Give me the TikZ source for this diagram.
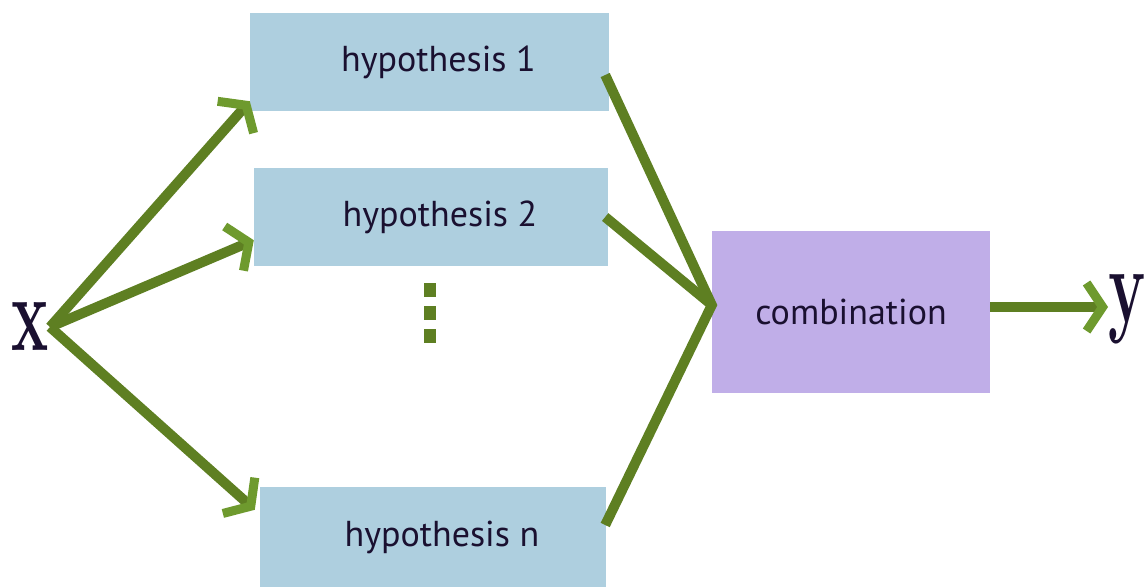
\documentclass[tikz,border=0pt]{standalone}
\usepackage{fontspec}
\usepackage{graphicx}
\setsansfont{PT Sans}
\usetikzlibrary{arrows.meta}
\definecolor{hypblue}{HTML}{AECFDF}
\definecolor{combviolet}{HTML}{C0AEE8}
\definecolor{wiregreen}{HTML}{5E7F22}
\definecolor{tipgreen}{HTML}{6E9A2E}
\definecolor{inkdark}{HTML}{1A1030}
\newcommand{\bigvar}[1]{\scalebox{0.58}[1]{\bfseries\fontsize{108}{108}\selectfont #1}}
\tikzset{
  hypbox/.style={fill=hypblue,text=inkdark,font=\sffamily\fontsize{36}{40}\selectfont},
  varlabel/.style={text=inkdark,inner sep=0pt,anchor=base west},
  wire/.style={draw=wiregreen,line width=10pt},
  feed/.style={wire,-{Straight Barb[length=16pt,width=48pt,line width=9pt,color=tipgreen]}}
}

\begin{document}
\begin{tikzpicture}[x=1pt,y=-1pt]
  \useasboundingbox (0,0) rectangle (1146,587);
  \node[hypbox] (h1) at (429.5,62) [minimum width=359pt,minimum height=98pt] {\hspace*{18pt}hypothesis 1};
  \node[hypbox] (h2) at (431,217) [minimum width=354pt,minimum height=98pt] {\hspace*{18pt}hypothesis 2};
  \node[hypbox] (hn) at (433,537) [minimum width=346pt,minimum height=100pt] {\hspace*{18pt}hypothesis n};
  \node[fill=combviolet,text=inkdark,font=\sffamily\fontsize{36}{40}\selectfont,
        minimum width=278pt,minimum height=162pt] (comb) at (851,312) {combination};
  \node[varlabel] (xin) at (11,350) {\bigvar{x}};
  \node[varlabel] (yout) at (1108,322) {\bigvar{y}};
  \foreach \d in {0,1,2}
    \fill[wiregreen] (424,283+23*\d) rectangle (436,297+23*\d);
  \coordinate (fan) at (50,327);
  \coordinate (meet) at ([yshift=7pt]comb.west);
  \draw[feed] (fan) -- ([yshift=10pt]h1.south west);
  \draw[feed] (fan) -- ([yshift=26pt]h2.south west);
  \draw[feed] (fan) -- ([xshift=-5pt,yshift=-23pt]hn.north west);
  \draw[wire,line join=miter] ([xshift=-4pt,yshift=-13pt]h1.east) -- (meet) -- ([xshift=-1pt,yshift=12pt]hn.east);
  \draw[wire] ([xshift=-3pt]h2.east) -- (meet);
  \draw[feed] ([yshift=5pt]comb.east) -- ([yshift=5pt]comb.east -| yout.west);
\end{tikzpicture}
\end{document}
